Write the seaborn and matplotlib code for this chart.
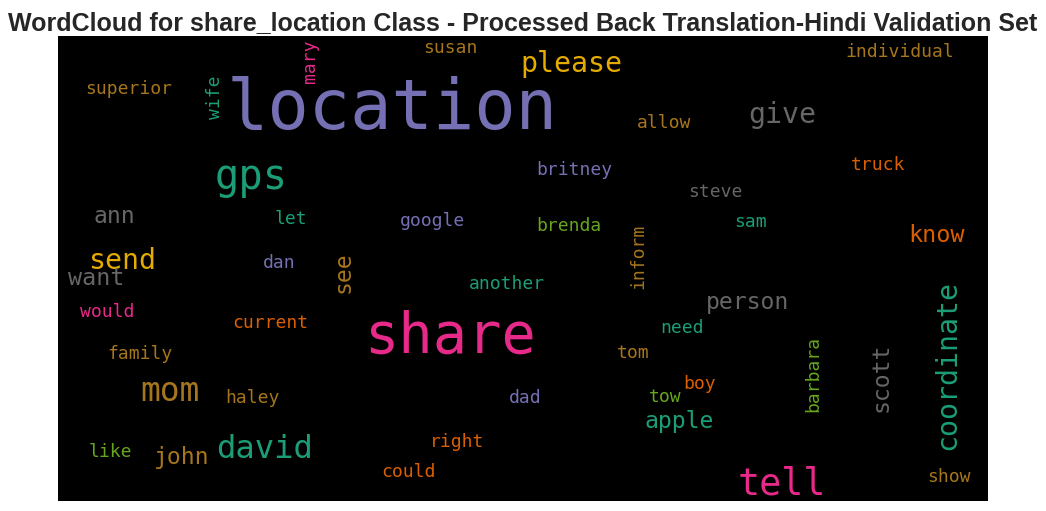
import matplotlib
matplotlib.use("Agg")
import matplotlib.pyplot as plt
import seaborn as sns

words = ["location","share","gps","please","give","tell","david","mom","send","want","ann",
         "coordinate","scott","person","know","apple","john","see","superior","wife","mary",
         "susan","individual","allow","britney","truck","steve","let","google","brenda","sam",
         "inform","dan","another","would","current","need","family","tom","boy","haley","dad",
         "tow","barbara","right","like","could","show"]
# word weight: font size in points
weights = [49.5,41,29.2,20.3,20.3,26.5,23.2,23.7,20.3,16.8,16.6,
           20.3,16.7,16.7,16.8,16.7,16.7,16.6,13,13,13,
           13,13,13,13,13,13,13,13,13,13,
           13,13,13,13,13,13,13,13,13,13,13,
           13,13,13,13,13,13]
# index in the Dark2 palette
colour_idx = [2,3,0,5,7,3,0,6,5,7,7,
              0,7,7,1,0,6,6,6,0,3,
              6,6,6,2,1,7,0,2,4,0,
              6,2,0,3,1,0,6,6,1,6,2,
              4,4,1,4,1,6]
# layout of the cloud, in the picture's pixels
x_pos = [392,450,251,571,782,782,265,170,122,96,114,
         947,881,748,937,679,182,343,129,215,310,
         450,900,664,574,878,715,291,433,569,751,
         638,279,507,107,270,682,140,633,700,252,525,
         665,813,457,110,408,949]
y_pos = [105,333,175,62,113,482,447,389,259,277,215,
         365,377,301,234,420,456,272,88,97,61,
         47,51,122,169,164,191,218,220,225,221,
         256,262,283,311,322,327,353,352,383,397,397,
         396,374,441,451,471,476]
vertical = {"coordinate","scott","see","wife","mary","inform","barbara"}

sns.set_theme(style="white")
palette = sns.color_palette("Dark2", 8)

fig = plt.figure(figsize=(10.46, 5.11), dpi=100)
ax = fig.add_axes([58/1046, 1-501/511, 930/1046, 465/511])
ax.set_facecolor("black")
ax.set_xlim(58, 988)
ax.set_ylim(501, 36)
ax.set_xticks([])
ax.set_yticks([])
sns.despine(ax=ax, left=True, bottom=True)

for w, s, c, x, y in zip(words, weights, colour_idx, x_pos, y_pos):
    is_vertical = w in vertical
    ax.text(x, y if is_vertical else y + 0.09 * s, w, color=palette[c], fontsize=s,
            family="DejaVu Sans Mono", ha="center", va="center",
            rotation=90 if is_vertical else 0)

fig.text(523/1046, 1-23/511, "WordCloud for share_location Class - Processed Back Translation-Hindi Validation Set",
         ha="center", va="center", fontsize=18.0, fontweight="bold", family="Liberation Sans", color="#262626")
fig.savefig("out.png", dpi=100)
